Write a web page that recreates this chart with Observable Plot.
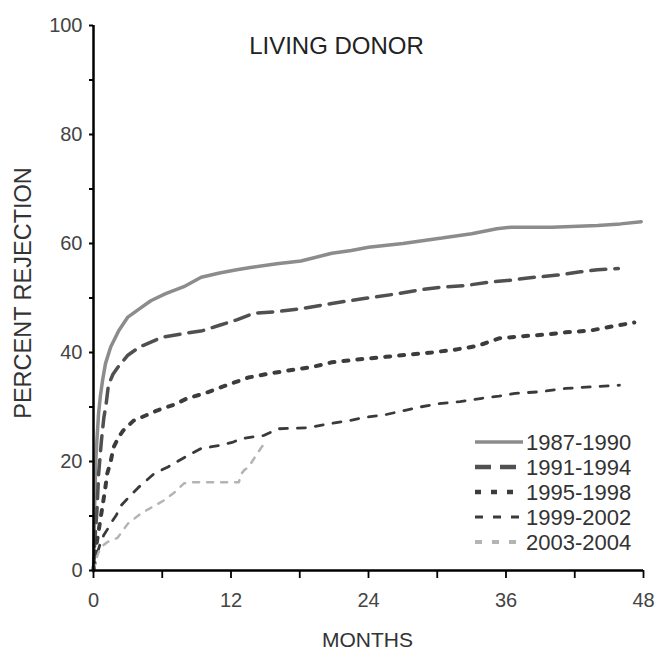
<!DOCTYPE html>
<html><head><meta charset="utf-8">
<script src="https://cdn.jsdelivr.net/npm/d3@7"></script>
<script src="https://cdn.jsdelivr.net/npm/@observablehq/plot@0.6"></script>
<style>body{margin:0;background:#fff} svg{font-family:"Liberation Sans",Arial,sans-serif}</style>
</head><body><div id="chart"></div><script>
const seriesNames = ["1987-1990", "1991-1994", "1995-1998", "1999-2002", "2003-2004"];

const months1987 = [0, 0.05, 0.1, 0.2, 0.3, 0.45, 0.6, 0.8, 1.05, 1.5, 2.2, 3, 4, 5, 6.3, 8, 9.4, 11, 12.5, 13.7, 16, 18.1, 20.8, 22.5, 24, 27, 30.4, 33, 35.2, 36.5, 40, 44, 46, 47.8];
const values1987 = [0, 6, 12, 20, 24, 29, 32, 35, 38, 41, 44, 46.5, 48, 49.5, 50.8, 52.2, 53.8, 54.6, 55.2, 55.6, 56.3, 56.8, 58.2, 58.7, 59.3, 60, 61, 61.8, 62.7, 63, 63, 63.3, 63.6, 64];

const months1991 = [0, 0.1, 0.3, 0.45, 0.7, 0.9, 1.1, 1.3, 1.7, 2.2, 3, 4, 6, 8, 9.5, 11, 12.5, 14, 16, 18, 20.8, 23.6, 26.6, 28.5, 30.4, 32.5, 34.5, 36.5, 38.5, 40.5, 42.5, 44, 45.8];
const values1991 = [0, 5, 11, 17.8, 24, 28, 30.5, 34, 36, 37.5, 39.5, 41, 42.8, 43.5, 44, 45, 46, 47.2, 47.5, 48, 49, 49.9, 50.8, 51.5, 52, 52.3, 52.9, 53.3, 53.8, 54.2, 54.8, 55.2, 55.4];

const months1995 = [0, 0.2, 0.5, 0.8, 1.0, 1.2, 1.5, 1.75, 2.2, 2.6, 3.5, 4.5, 5.6, 7, 8.2, 9.7, 11.1, 12.3, 13.5, 15, 17, 19, 20.8, 23, 25.5, 27.5, 29.5, 31.5, 33.5, 35.4, 37.5, 39.5, 41.2, 43.3, 45.3, 47.2];
const values1995 = [0, 4, 8, 12, 14.7, 17.8, 20, 22.6, 24.5, 25.7, 27.5, 28.4, 29.4, 30.4, 31.6, 32.5, 33.6, 34.5, 35.4, 36, 36.7, 37.3, 38.2, 38.7, 39.2, 39.6, 40, 40.5, 41.2, 42.6, 43, 43.3, 43.7, 44, 44.8, 45.5];

const months1999 = [0, 0.3, 0.6, 0.9, 1.2, 1.5, 2, 2.4, 3.1, 3.9, 4.6, 5.3, 6.5, 7.9, 9.4, 10.9, 12.1, 12.9, 14.2, 14.9, 16.1, 18.7, 20.8, 22.3, 23.7, 25.5, 27.2, 28.5, 30.1, 32, 33.9, 35.4, 36.8, 39, 41.2, 43.5, 45.9];
const values1999 = [0, 3, 5, 6.5, 7.5, 8.6, 10.2, 11.9, 13.5, 15.2, 16.5, 17.8, 19, 20.7, 22.4, 22.9, 23.5, 24.2, 24.6, 24.8, 26, 26.2, 27, 27.5, 28.1, 28.6, 29.4, 30, 30.6, 31, 31.6, 32, 32.5, 32.8, 33.4, 33.7, 34];

const months2003 = [0, 0.3, 0.6, 1.2, 2.1, 3, 4.1, 5, 6.1, 7, 7.9, 8.8, 10.5, 12.7, 12.8, 13.2, 13.5, 14, 14.3, 14.9];
const values2003 = [0, 2.5, 4.2, 5.2, 6, 8.6, 10.4, 11.5, 12.8, 14.2, 16, 16.2, 16.2, 16.2, 17.5, 18.5, 18.9, 20.5, 21.5, 23.3];

const xTicks = [0, 6, 12, 18, 24, 30, 36, 42, 48];
const yTicks = [0, 10, 20, 30, 40, 50, 60, 70, 80, 90, 100];

const monthsList = [months1987, months1991, months1995, months1999, months2003];
const valuesList = [values1987, values1991, values1995, values1999, values2003];
const rows = seriesNames.flatMap((s, i) => monthsList[i].map((m, j) => ({series: s, month: m, value: valuesList[i][j]})));

const styles = {
  "1987-1990": {stroke: "#8c8c8c", strokeWidth: 3.5, dash: null, legendDash: null, legendWidth: 3.5},
  "1991-1994": {stroke: "#505050", strokeWidth: 3.5, dash: "15,9", legendDash: "16,9", legendWidth: 4.5},
  "1995-1998": {stroke: "#3c3c3c", strokeWidth: 4, dash: "5,9", legendDash: "6,10", legendWidth: 4.5},
  "1999-2002": {stroke: "#3a3a3a", strokeWidth: 2.8, dash: "8,10", legendDash: "8,10", legendWidth: 3},
  "2003-2004": {stroke: "#b4b4b4", strokeWidth: 2.5, dash: "6,8", legendDash: "7,10", legendWidth: 4}
};

const lineMarks = seriesNames.map(s => Plot.line(rows.filter(d => d.series === s), {
  x: "month", y: "value",
  stroke: styles[s].stroke, strokeWidth: styles[s].strokeWidth,
  strokeDasharray: styles[s].dash || undefined, strokeLinejoin: "miter"
}));

const chart = Plot.plot({
  width: 657, height: 654,
  marginLeft: 93, marginRight: 14, marginTop: 25, marginBottom: 84,
  x: {domain: [0, 48]},
  y: {domain: [0, 100]},
  style: {fontFamily: "'Liberation Sans', Arial, sans-serif", fontSize: "20px", color: "#333", background: "white"},
  marks: [
    ...lineMarks,
    Plot.axisX({ticks: xTicks, tickSize: 8, tickPadding: 14, tickFormat: d => d % 12 === 0 ? d : "", strokeWidth: 1.8, stroke: "#000", fill: "#444", label: null}),
    Plot.axisY({ticks: yTicks, tickSize: 4, tickPadding: 7, tickFormat: d => d % 20 === 0 ? d : "", strokeWidth: 2, stroke: "#000", fill: "#444", label: null}),
    Plot.ruleX([0], {stroke: "#000", strokeWidth: 2.5}),
    Plot.ruleY([0], {stroke: "#000", strokeWidth: 2.5}),
    Plot.text(["LIVING DONOR"], {frameAnchor: "top", lineAnchor: "middle", textAnchor: "middle", dx: -32, dy: 21, fontSize: 24, fill: "#222"}),
    Plot.text(["PERCENT REJECTION"], {frameAnchor: "left", lineAnchor: "middle", textAnchor: "middle", rotate: -90, dx: -70, dy: -5, fontSize: 23.5, fill: "#333"}),
    Plot.text(["MONTHS"], {frameAnchor: "bottom", lineAnchor: "middle", textAnchor: "middle", dx: -1, dy: 70, fontSize: 21, fill: "#333"})
  ]
});
document.getElementById("chart").appendChild(chart);

// legend
const svg = d3.select(chart);
const lg = svg.append("g").attr("class", "legend");
seriesNames.forEach((s, i) => {
  const y = 442 + i * 25;
  const st = styles[s];
  lg.append("line").attr("x1", 475).attr("x2", 523).attr("y1", y).attr("y2", y)
    .attr("stroke", st.stroke).attr("stroke-width", st.legendWidth)
    .attr("stroke-dasharray", st.legendDash);
  lg.append("text").attr("x", 526).attr("y", y).attr("dy", "0.36em")
    .attr("text-anchor", "start")
    .attr("font-size", 22).attr("fill", "#333").text(s);
});
</script></body></html>
